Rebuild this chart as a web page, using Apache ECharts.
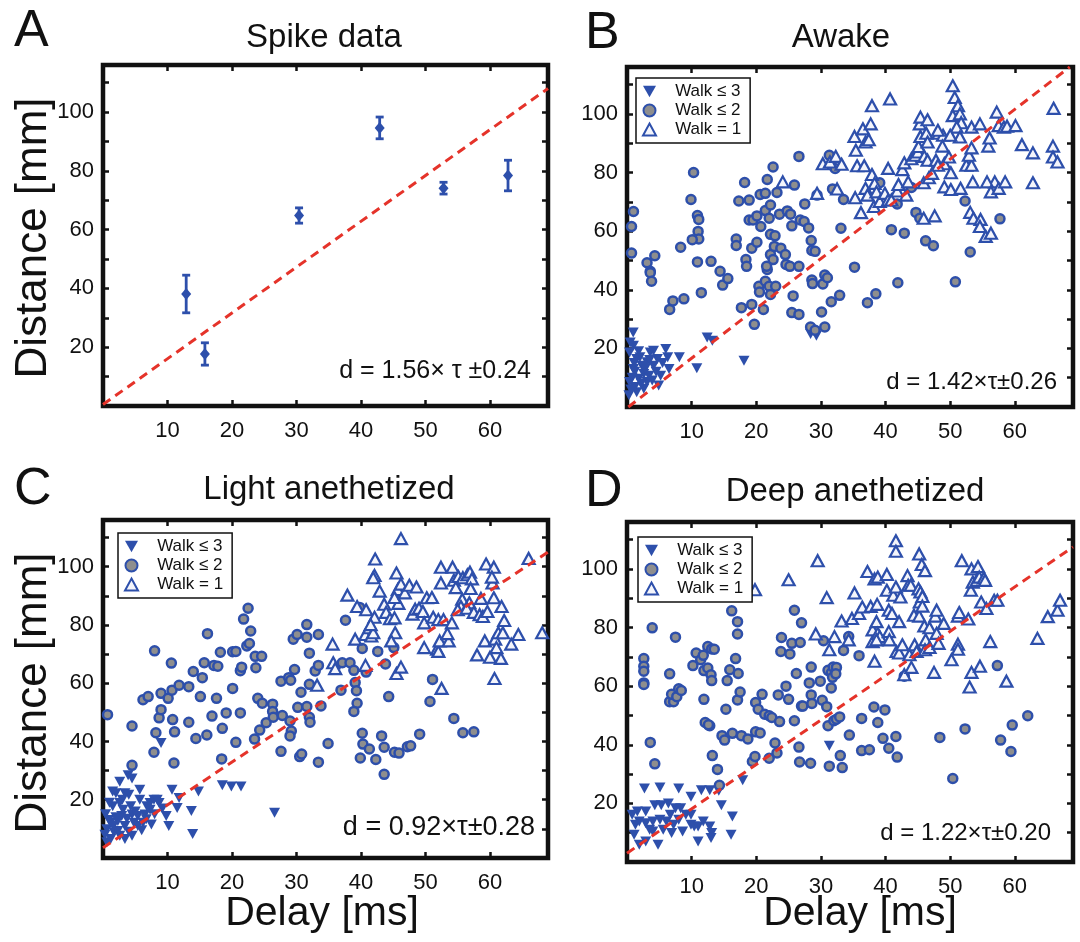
<!DOCTYPE html>
<html>
<head>
<meta charset="utf-8">
<script src="https://cdn.jsdelivr.net/npm/echarts@6/dist/echarts.min.js"></script>
<style>
  html, body { margin: 0; padding: 0; background: #fff; }
  #chart { width: 1080px; height: 942px; }
</style>
</head>
<body>
<div id="chart"></div>
<script>
// panel A: spike data, mean distance with error bar
const spikeDelay = [12.9, 15.8, 30.4, 42.9, 52.8, 62.8]
const spikeDist = [38.1, 17.7, 64.8, 94.6, 74.1, 78.4]
const spikeErr = [6.4, 3.8, 2.6, 3.7, 2.0, 5.2]

// fitted lines [delay, distance] end points
const fitA = [[0, 0.5], [69, 108]]
const fitB = [[0.2, 0], [68.5, 116]]
const fitC = [[0, 3.5], [69, 105]]
const fitD = [[0, 3], [69, 107.5]]

const walkNames = ['Walk ≤ 3', 'Walk ≤ 2', 'Walk = 1']
const panelTitles = ['Spike data', 'Awake', 'Light anethetized', 'Deep anethetized']
const panelLetters = ['A', 'B', 'C', 'D']
const fitLabels = ['d = 1.56× τ ±0.24', 'd = 1.42×τ±0.26', 'd = 0.92×τ±0.28', 'd = 1.22×τ±0.20']

// panel B: awake
const awakeWalk3 = [[0.96,25.4],[1,20.9],[1.5,16.4],[3.1,15.3],[3.6,18.6],[4.1,19.2],[4.7,16.4],[6,19.8],[6.3,17],[8.1,17],[6.5,13],[4.9,7.3],[2.6,6.2],[1.5,5],[2.6,11.3],[3.4,10.7],[1.8,9.6],[0.4,8.5],[1,13],[0.4,18.6],[4.1,14.1],[5.2,10.7],[10.8,13.2],[12.4,23.7],[13.2,22.6],[18.1,15.8],[28.4,24.9],[29.3,24.3],[2.3,14.1],[3.1,8.5],[1.2,6.8],[0.5,22],[1.2,12],[2,17],[2.8,13],[3.5,16],[4.5,12],[5.5,15],[1.8,19],[0.8,10],[2.2,8],[3.9,9],[1.1,15],[0.3,4],[0.6,6]]
const awakeWalk2 = [[1,66.7],[0.7,61.6],[0.7,52.5],[3.1,49.2],[3.6,46.3],[3.6,45.8],[3.8,42.9],[4.3,51.6],[6.6,33.3],[7.1,36.2],[8.8,36.9],[8.3,54.5],[10.3,80],[9.9,70.8],[10.9,65.3],[11.1,64],[11,59.9],[11.1,57.3],[10.1,57.1],[10.9,49.5],[11.5,39],[13,49.7],[14.4,46.3],[14.8,41.6],[15.6,43.8],[16.9,57.3],[16.9,55.1],[17.3,70.3],[18.2,76.6],[18.9,70.6],[17.7,33.9],[18.4,50.3],[18.5,48],[18.9,63.8],[19.3,54.2],[20.1,56.2],[19.3,35],[19.7,28.2],[19.5,63.8],[20.1,65.2],[20.4,41.2],[20.5,39.2],[21.1,33.3],[20.6,72.5],[21.4,72.9],[21.7,77.6],[20.7,61.6],[21.4,67],[22,64.4],[22.2,68.9],[22.6,81.9],[23.2,73.2],[22.2,58.9],[22.9,58.4],[22.2,52],[22.6,50.3],[21.7,46.9],[21.4,42.9],[22,41.2],[23,41.2],[22.2,38.4],[21.6,48],[23.6,65.8],[22.8,54.8],[23.8,54.2],[24.5,52],[24.8,66.9],[25.3,65.8],[25.5,61.8],[24.6,48.6],[25.2,48],[25.7,37.9],[25.5,32.2],[26.6,31.6],[26.6,48],[25.9,75.7],[26.6,85.5],[26.8,63.8],[27.4,63.3],[27.5,69.3],[28.1,61.1],[28.5,56.8],[28.6,53.4],[29.1,53.1],[28.6,43.3],[28.7,42.1],[28.4,27.3],[29.1,26.2],[30.1,32.4],[30.3,42],[30.6,45],[31,44.1],[30.6,27.3],[29.4,72.3],[31.3,85.9],[32.2,81.4],[31.8,74.4],[33.5,70.8],[33.1,61],[31.6,35.9],[32.9,38.1],[35.2,47.7],[37.2,35.6],[38.5,38.6],[39.1,76.5],[40.9,60.5],[41.8,69.3],[42.9,59.3],[41.9,42.4],[44,74.9],[44.7,66.4],[45.3,64.4],[46.2,56.7],[47.4,55],[50.8,42.7],[52.3,70.3],[53.1,52.9],[57.7,64.2]]
const awakeWalk1 = [[24.1,76.8],[29.4,72.9],[30.3,83],[31.4,83.6],[32.3,85.5],[33.2,82.8],[32.5,74.4],[35.2,92.3],[35.4,87.6],[35.3,71.4],[36.2,66.3],[36.5,94.9],[36.9,90.4],[37.4,91.2],[37.7,96.6],[37.9,102.8],[35.6,82.3],[36.7,82.3],[37.9,79.3],[36.9,74.6],[37.2,72.3],[38.2,68.4],[38.3,76.3],[38.6,73.4],[39.1,70.1],[40.7,105.1],[40.4,81.4],[39.9,72.9],[40.4,70.6],[40.9,70.6],[41.8,73.7],[42,75.9],[42.6,81],[42.9,83.3],[43.2,72.3],[43.5,76.8],[44,84.7],[44.6,85.9],[45,87],[45.1,88.9],[45.4,92.3],[45.3,96.6],[45.4,98.9],[46.5,98],[46.3,93.4],[46.5,90.4],[46,85.5],[46.5,84.2],[45.9,76.5],[46.7,78.2],[47.2,79.7],[47.8,84.2],[48.2,93.4],[48.9,92.7],[48.8,89],[49.1,83],[48.1,82.5],[47.6,65.2],[45.9,64.4],[50.1,79.9],[49.1,75.1],[50.1,74.2],[50.4,109.6],[50.7,105.6],[51.2,102.8],[50.4,99.4],[51.5,100],[51.7,97],[51,95.5],[51.5,92.1],[50,92.7],[49.8,85.3],[52.5,82.5],[53.3,82.5],[52.9,85.9],[53.3,88.4],[53.3,95.5],[54.6,96.6],[53.5,76.8],[51.6,74.6],[53.1,66.4],[53.6,64.4],[54.7,64],[54.6,61.6],[55.5,58.2],[56.3,59.3],[55.9,89],[56.1,91.8],[57.2,100.6],[57.5,96],[58.3,95.5],[58.8,95.8],[60.1,96],[56.9,76.8],[55.7,76.8],[56.3,73.4],[57.5,74.6],[58.5,76.8],[61.1,89.5],[62.8,86.7],[62.8,76.5],[66,101.9],[65.9,89],[65.9,85.3],[66.6,83.6],[48.1,94.4]]

// panel C: light anesthesia
const lightWalk3 = [[3.9,28.4],[4.5,27.3],[2.6,26.2],[1.5,22.8],[2,22.2],[3.4,22.2],[4,21.7],[5.7,20],[1.5,17.8],[2.6,18.9],[3.1,16.6],[4.3,17.8],[4.5,14.9],[5.4,14.4],[6.5,14.9],[6.8,17.8],[7.3,18.9],[7.9,20],[8.4,20],[8.7,18.9],[6.2,12.1],[6.7,13.3],[7.3,16.6],[5.4,11],[3.4,11],[2.3,12.7],[1.2,12.1],[0.6,9.9],[1.7,8.8],[2.6,7.6],[3.4,6.5],[4.5,7.6],[0.6,5.4],[1.2,6.5],[2.3,9.3],[4.8,12.1],[9,39.5],[9.8,14.4],[10.2,11],[10.7,23.4],[11.5,17.2],[11.8,20.6],[13.7,16.1],[13.9,8.2],[14.8,22.8],[18.5,25],[19.9,24.5],[21.4,24.5],[26.6,15.5],[2.9,14.4],[5.7,23.4],[0.4,15],[1,19],[0.9,13],[3,20],[2,14],[4,9],[5,16],[1.6,11],[0.3,8],[3.7,13.5],[6,9.5],[7.5,11.5],[8,15],[9.2,17]]
const lightWalk2 = [[0.7,49.2],[4.5,45.3],[4.5,31.8],[6.2,54.3],[7,55.4],[8,71.1],[8.2,43],[7.9,36.3],[8.7,48.1],[9,50.9],[9,56.5],[10.1,54.8],[10.6,66.9],[10.7,57.6],[10.8,47.5],[11.1,43.3],[11,32.6],[11.8,59.3],[13.3,58.8],[13.3,46.6],[14,64],[14.4,41],[15.1,55.4],[15.4,61.9],[15.7,67],[16.2,77],[16.1,42.2],[16.9,48.7],[17.2,66.1],[17.8,65.8],[17.6,54.8],[18.2,70.6],[18.5,44.5],[18.4,34],[19.1,49.8],[20.1,58.2],[20.1,70.8],[20.6,70.9],[20.6,39.7],[21.3,49.8],[21.3,64.3],[21.8,82],[21.5,65.5],[22.3,72.8],[22.5,85.7],[22.7,73.6],[22.9,77.9],[23.6,69.2],[23.7,65.3],[24.6,69.2],[24,54.8],[24.7,53.1],[23.5,40.8],[24.3,43.9],[25.3,46.4],[26.3,52.8],[26.3,50.3],[26.4,48.3],[27.6,60.7],[27.8,48.9],[27.6,36.6],[28.8,61.9],[29.1,61],[29,47],[29.2,43.6],[29,41.9],[29.5,75.1],[29.7,64.7],[30.1,76.7],[30.2,51.7],[30.5,34.8],[30.8,35.7],[30.7,56.9],[31.6,52],[31.6,80.1],[31.6,75.8],[32,70.3],[32,48.3],[32.1,46.6],[32,59.6],[32.9,64.2],[33.4,66.1],[33.4,76.7],[33.4,32.9],[33.8,52.2],[34.9,39.3],[36.9,57.6],[37.1,67],[37.6,81.6],[38.3,67],[38.9,64.4],[39.1,60.2],[39.3,57.4],[39.4,53.1],[38.9,50.3],[39.8,86],[40.2,71.9],[40.2,42.8],[40.3,39.1],[39.9,34.3],[40.8,63.8],[41.3,37.4],[42.3,33.8],[42.6,70.9],[43.2,41.9],[43.6,38],[43.6,28.7],[43.8,66.6],[44.3,55.4],[45.1,72.2],[45.2,36.3],[45.9,36],[47.2,38.2],[47.7,38.5],[49.1,42.5],[50.7,53.7],[51.1,61.3],[54.4,47.9],[55.8,43],[57.5,43.3]]
const lightWalk1 = [[35.6,73.4],[35.7,67],[36,65],[37.9,90.2],[33.2,59.3],[39.1,75.1],[39.4,86.3],[40.7,76.7],[40.8,85.2],[41.3,79],[41.6,76.2],[41.9,77.3],[42.1,97],[42.2,102.6],[41.9,96.2],[42.9,91.6],[42.1,82.6],[41.5,80.1],[40.7,66.1],[43.6,87.1],[43.9,84.3],[44.5,82.1],[45.5,97.8],[45.7,92.1],[45.8,87.4],[46.2,94],[45.2,89.4],[45.2,82.4],[45.3,77.3],[44.7,74.5],[45.5,63.3],[46.2,65.5],[46.2,109.6],[46.8,91],[47.5,93.6],[48.6,93],[48,83.7],[48.4,85.4],[49,85.7],[49.6,84.6],[49.8,80.7],[49.8,72.2],[50.2,89.3],[51,89.4],[51.2,82.6],[52,81.8],[51.8,71.7],[52,70.9],[52.2,74.5],[52.4,99.8],[52.4,94.4],[52.8,81.8],[52.5,58.2],[53.6,74.5],[54.2,99.8],[54.1,80.7],[53.4,77],[54.4,95.3],[54.7,92.8],[55.1,96.6],[55.7,88.8],[55.5,86.3],[55,85.2],[55.8,96.2],[56.5,97.2],[56.9,98.1],[57.2,95.8],[57,92.5],[56.8,87.6],[56.4,85.7],[57.5,84.3],[58,69.7],[58.4,83.5],[58.6,89.1],[58.9,82.9],[59.2,74.5],[59.4,100.9],[59.6,84.6],[60,68.9],[60.6,99.8],[60.4,94.4],[60.6,89.3],[60.7,61.6],[60.8,75.1],[61,72.2],[61.3,77.3],[61.8,86.3],[61.7,68.5],[62.2,81.5],[62,77.3],[63.3,73.4],[64.4,76.7],[66,102.8],[68.1,77.3],[60.3,96.4]]

// panel D: deep anesthesia
const deepWalk3 = [[2.7,25.1],[5.1,25.4],[8,25.1],[11.5,24.5],[12.8,24.5],[9.9,22.3],[14.2,24.3],[14.6,19.4],[16.3,15.5],[17.9,27.9],[16.1,9.3],[4.3,19.4],[5.3,19.4],[6.4,20],[7.5,18.3],[8.3,18.3],[2.9,17.2],[1.6,17.2],[0.8,16.1],[1.9,13.8],[2.9,13.2],[4,13.8],[5.1,14.4],[6.1,13.8],[6.7,16.1],[7.2,12.7],[8,14.4],[8.6,10.4],[9.1,16.1],[9.9,16.1],[9.9,12.7],[10.4,12.1],[11,12.1],[11.8,13.8],[12.8,12.1],[13,8.2],[11,7],[6.9,9.9],[4.8,5.9],[2.9,7],[1.9,5.9],[1.1,9.3],[1.3,12.7],[3.5,11],[5.6,11],[31.3,39.7],[13.1,9.9],[4,10.4]]
const deepWalk2 = [[3.9,79.9],[2.6,69.4],[2.6,66.8],[2.6,65.1],[2.6,61.1],[2.6,60.6],[3.6,40.8],[4.3,33.5],[6.6,64.2],[7.5,76.7],[6.6,54.7],[7.2,54.7],[6.9,57.2],[7.7,56.4],[8,59.1],[8.4,58.5],[10.2,67],[10.7,71.3],[11.4,69],[11.8,70.5],[12.5,73.5],[13.1,72.7],[13.5,72.6],[11.9,65.3],[12.5,66.2],[13,63.9],[13.1,61.9],[11.9,55.5],[12.1,47.6],[12.8,46.5],[12.6,46.8],[13.2,36.3],[14,31.6],[14.3,26.2],[14.7,43.1],[15.1,41.6],[15.3,52.1],[15.5,61.9],[15.9,65.6],[16.2,85.7],[16.8,69.4],[17.1,82],[17.1,77.8],[17.2,64.3],[17.1,55.3],[17.5,58],[16.3,43.9],[17.7,43.1],[18.7,42],[19.4,34.3],[19.8,36],[19.9,54.4],[20.3,52.1],[19.9,44.4],[20.6,44],[20.9,57.2],[21.3,50.4],[22,49.9],[22.4,49.3],[22,35.4],[22.9,40.6],[23.2,37.2],[23.4,57],[23.6,47.9],[23.9,76.6],[23.8,71.8],[24.6,60],[25,55.5],[25.2,71],[25.5,74.6],[25.9,85.9],[25.9,48.2],[26.2,64.3],[26.6,39.2],[26.7,34.1],[26.8,74.9],[27,53.2],[27.2,53.2],[27,81.6],[28.2,61.1],[28.4,33.7],[28.5,66.5],[28.5,57],[28.6,54.1],[29.9,61.7],[30.4,75.5],[30.2,55.2],[30.9,53],[31.1,46.5],[31.3,32.7],[31.1,65.4],[31.6,64.5],[31.8,63],[31.9,66.5],[32.4,66.4],[32.3,64.2],[31.6,59.4],[32,48.2],[32.4,48.7],[32.9,49.5],[33,36.3],[33.3,32.2],[33.5,72.2],[34.3,76.9],[34.4,43.3],[35.9,70.4],[36.3,49],[36.3,38],[37.5,38.3],[38.2,52.9],[38.8,47.6],[39.6,42.2],[39.9,51.9],[40.5,38.8],[41.6,42.8],[41.8,35.8],[42.9,63.4],[48.4,42.5],[50.4,28.5],[52.3,45.4],[57.3,67],[57.8,41.6],[59.6,46.7],[59.4,37.7],[62,49.9]]
const deepWalk1 = [[19.8,92.9],[25,96.3],[29.5,102.8],[29.2,77.8],[30.9,90.2],[31.3,72.4],[32.1,76.9],[33.2,82.2],[34.3,75.8],[34.8,83.1],[35.2,91.8],[35.9,84.8],[36.4,87],[37.2,99.1],[37.7,87.2],[38,75.2],[38,79.2],[38.3,68.5],[38.3,96.6],[38.8,97.2],[38.7,87.9],[38.6,82],[38.8,78],[39.1,76.9],[38.6,75.8],[40.2,98.1],[40.2,92.7],[40.5,85.9],[40.5,78.6],[40.6,75.8],[41,84.8],[41.2,91],[41.6,109.6],[41.6,106],[41.6,93.8],[41.7,71.8],[42.1,82],[42.1,71.3],[42.3,90.4],[42.6,74.1],[42.9,63.9],[43.4,97.7],[43.5,94.4],[43.7,70.7],[43.9,94.4],[44,66.4],[44.4,84.2],[44.5,74.1],[44.8,71.8],[45.1,93.2],[45.2,105.1],[45.2,83.9],[45.3,88.7],[45.4,92.1],[45.6,101.5],[45.7,90.6],[45.7,87.3],[46.1,99.4],[46,80.5],[46.2,75.8],[46.1,72.4],[46.8,73.2],[46.8,79.9],[47.7,83.9],[47.5,64.7],[47.9,78],[48.2,74.6],[47.9,85.9],[49,81.4],[50.2,69],[51.2,74.3],[51.2,72.6],[51.2,83.9],[51.4,85.1],[51.8,102.8],[52.8,82.9],[53,59.7],[53.3,64.7],[53.2,92.7],[53.3,100],[53.5,95.5],[54.1,96.1],[54.3,100.8],[54.5,97.2],[54.6,66.8],[54.8,88.7],[55.2,96.9],[55.4,96.1],[55.6,86.5],[56.2,75.2],[56.8,89.3],[57.3,89.3],[58.7,61.7],[63.5,76.3],[65.1,83.7],[66.6,85.9],[67,89.3]]

const blue = '#2d4fab'
const ink = '#111'
const font = 'Liberation Sans, Arial, Helvetica, sans-serif'
const downTriangle = 'path://M0,0L20,0L10,18Z'

// grid boxes in pixels
const boxes = [
  { left: 103, top: 65, width: 445, height: 341 },
  { left: 627, top: 67, width: 446, height: 340 },
  { left: 103, top: 520, width: 445, height: 338 },
  { left: 627, top: 522, width: 446, height: 340 }
]

const xFmt = v => (v > 0 && v % 10 === 0 && v <= 60) ? String(v) : ''
const yFmt = v => (v > 0 && v % 20 === 0 && v <= 100) ? String(v) : ''
const makeTick = () => ({ show: true, inside: true, length: 6, lineStyle: { color: ink, width: 2.5 } })

const xAxes = []
const yAxes = []
boxes.forEach((b, i) => {
  ['bottom', 'top'].forEach(pos => {
    xAxes.push({
      gridIndex: i, type: 'value', position: pos, min: 0, max: 69, interval: 10,
      axisLine: { show: false, onZero: false }, splitLine: { show: false }, axisTick: makeTick(),
      axisLabel: { show: pos === 'bottom', formatter: xFmt, fontSize: 22, color: ink, fontFamily: font, margin: 14 }
    })
  })
  ;['left', 'right'].forEach(pos => {
    yAxes.push({
      gridIndex: i, type: 'value', position: pos, min: 0, max: 116, interval: 10,
      axisLine: { show: false, onZero: false }, splitLine: { show: false }, axisTick: makeTick(),
      axisLabel: { show: pos === 'left', formatter: yFmt, fontSize: 22, color: ink, fontFamily: font, margin: 9 }
    })
  })
})

function fitSeries(p, data) {
  return {
    type: 'line', xAxisIndex: 2 * p, yAxisIndex: 2 * p, data: data, symbol: 'none', z: 5,
    lineStyle: { color: '#e5332a', width: 3, type: [9, 6] }
  }
}

function walkSeries(p, w3, w2, w1) {
  const ax = { xAxisIndex: 2 * p, yAxisIndex: 2 * p }
  return [
    Object.assign({ type: 'scatter', name: walkNames[0], data: w3, symbol: downTriangle, symbolSize: [11, 10],
      itemStyle: { color: blue, opacity: 1 } }, ax),
    Object.assign({ type: 'scatter', name: walkNames[1], data: w2, symbol: 'circle', symbolSize: 9,
      itemStyle: { color: '#8e8e8e', borderColor: blue, borderWidth: 2.5, opacity: 1 } }, ax),
    Object.assign({ type: 'scatter', name: walkNames[2], data: w1, symbol: 'triangle', symbolSize: [12, 11],
      itemStyle: { color: '#f4f5fb', borderColor: blue, borderWidth: 2.2, opacity: 1 } }, ax)
  ]
}

const spikeData = spikeDelay.map((d, i) => [d, spikeDist[i], spikeErr[i]])

const series = [
  {
    type: 'custom', xAxisIndex: 0, yAxisIndex: 0, data: spikeData,
    renderItem: (params, api) => {
      const x = api.value(0)
      const y = api.value(1)
      const e = api.value(2)
      const hi = api.coord([x, y + e])
      const lo = api.coord([x, y - e])
      const st = { stroke: blue, lineWidth: 2.8 }
      return {
        type: 'group',
        children: [
          { type: 'line', shape: { x1: hi[0], y1: hi[1], x2: lo[0], y2: lo[1] }, style: st },
          { type: 'line', shape: { x1: hi[0] - 4, y1: hi[1], x2: hi[0] + 4, y2: hi[1] }, style: st },
          { type: 'line', shape: { x1: lo[0] - 4, y1: lo[1], x2: lo[0] + 4, y2: lo[1] }, style: st }
        ]
      }
    }
  },
  {
    type: 'scatter', xAxisIndex: 0, yAxisIndex: 0, data: spikeData.map(d => [d[0], d[1]]),
    symbol: 'diamond', symbolSize: [10, 12], itemStyle: { color: blue, opacity: 1 }
  },
  fitSeries(0, fitA),
  ...walkSeries(1, awakeWalk3, awakeWalk2, awakeWalk1),
  fitSeries(1, fitB),
  ...walkSeries(2, lightWalk3, lightWalk2, lightWalk1),
  fitSeries(2, fitC),
  ...walkSeries(3, deepWalk3, deepWalk2, deepWalk1),
  fitSeries(3, fitD)
]

function legendAt(left, top) {
  return {
    data: walkNames, left: left, top: top, orient: 'vertical', selectedMode: false,
    itemWidth: 13, itemHeight: 12, itemGap: 2, padding: [5, 9, 5, 6],
    formatter: name => '   ' + name,
    backgroundColor: '#fff', borderColor: ink, borderWidth: 1.5, borderRadius: 0,
    textStyle: { fontSize: 17, color: ink, fontFamily: font }
  }
}

function text(x, y, str, size, align, extra) {
  return Object.assign({
    type: 'text', x: x, y: y, z: 100,
    style: { text: str, font: size + 'px ' + font, fill: ink, textAlign: align, textVerticalAlign: 'middle' }
  }, extra || {})
}

const graphics = [
  text(14, 32, panelLetters[0], 52, 'left'),
  text(585, 34, panelLetters[1], 52, 'left'),
  text(14, 490, panelLetters[2], 52, 'left'),
  text(585, 492, panelLetters[3], 52, 'left'),
  text(324, 38, panelTitles[0], 33, 'center'),
  text(841, 38, panelTitles[1], 33, 'center'),
  text(329, 490, panelTitles[2], 33, 'center'),
  text(855, 492, panelTitles[3], 33, 'center'),
  text(531, 371, fitLabels[0], 25, 'right'),
  text(1057, 382, fitLabels[1], 24, 'right'),
  text(535, 828, fitLabels[2], 27, 'right'),
  text(1051, 833, fitLabels[3], 24, 'right'),
  text(34, 238, 'Distance [mm]', 44, 'center', { rotation: Math.PI / 2 }),
  text(34, 693, 'Distance [mm]', 44, 'center', { rotation: Math.PI / 2 }),
  text(322, 914, 'Delay [ms]', 41, 'center'),
  text(860, 914, 'Delay [ms]', 41, 'center')
]

const chart = echarts.init(document.getElementById('chart'))
chart.setOption({
  animation: false,
  backgroundColor: '#fff',
  grid: boxes.map(b => Object.assign({ show: true, borderColor: ink, borderWidth: 4.5, backgroundColor: 'transparent' }, b)),
  xAxis: xAxes,
  yAxis: yAxes,
  legend: [legendAt(636, 78), legendAt(118, 533), legendAt(638, 537)],
  graphic: graphics,
  series: series
})
</script>
</body>
</html>
